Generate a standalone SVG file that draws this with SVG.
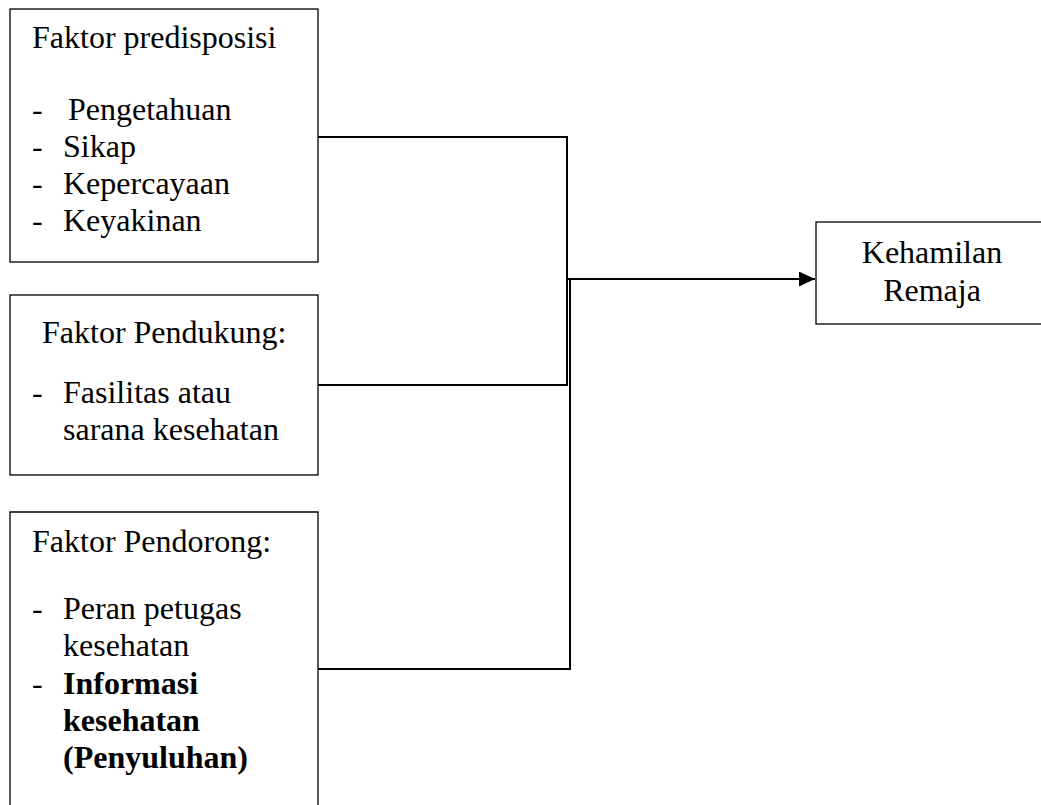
<svg xmlns="http://www.w3.org/2000/svg" width="1041" height="805" viewBox="0 0 1041 805">
<style>
.box{fill:#fff;stroke:#000;stroke-width:1.3}
.t{font-family:"Liberation Serif","Times New Roman",serif;font-size:32px;fill:#000}
.b{font-weight:bold}
.c{fill:none;stroke:#000;stroke-width:2}
</style>
<defs>
<marker id="ah" markerWidth="17" markerHeight="15" refX="16" refY="7.5" orient="auto" markerUnits="userSpaceOnUse">
<path d="M0,0 L16,7.5 L0,15 Z" fill="#000"/>
</marker>
</defs>
<rect width="1041" height="805" fill="#fff"/>
<g id="n1">
<rect class="box" x="10" y="9" width="308" height="253"/>
<text class="t" x="32" y="48">Faktor predisposisi</text>
<text class="t" x="32" y="120">-</text><text class="t" x="68" y="120">Pengetahuan</text>
<text class="t" x="32" y="157">-</text><text class="t" x="63" y="157">Sikap</text>
<text class="t" x="32" y="194">-</text><text class="t" x="63" y="194">Kepercayaan</text>
<text class="t" x="32" y="231">-</text><text class="t" x="63" y="231">Keyakinan</text>
</g>
<g id="n2">
<rect class="box" x="10" y="295" width="308" height="180"/>
<text class="t" x="42" y="343">Faktor Pendukung:</text>
<text class="t" x="32" y="403">-</text><text class="t" x="63" y="403">Fasilitas atau</text>
<text class="t" x="63" y="440">sarana kesehatan</text>
</g>
<g id="n3">
<path class="box" d="M10,806 V512 H318 V806"/>
<text class="t" x="32" y="552">Faktor Pendorong:</text>
<text class="t" x="32" y="619">-</text><text class="t" x="63" y="619">Peran petugas</text>
<text class="t" x="63" y="656">kesehatan</text>
<text class="t" x="32" y="694">-</text><text class="t b" x="63" y="694">Informasi</text>
<text class="t b" x="63" y="731">kesehatan</text>
<text class="t b" x="63" y="768">(Penyuluhan)</text>
</g>
<g id="n4">
<rect class="box" x="816" y="222" width="230" height="102"/>
<text class="t" x="932" y="263" text-anchor="middle">Kehamilan</text>
<text class="t" x="932" y="301" text-anchor="middle">Remaja</text>
</g>
<g id="connectors">
<path class="c" d="M318,137 H567 V385 H318"/>
<path class="c" d="M318,669 H570 V279"/>
<path class="c" stroke-width="2.6" d="M567,279 H815" marker-end="url(#ah)"/>
</g>
</svg>
